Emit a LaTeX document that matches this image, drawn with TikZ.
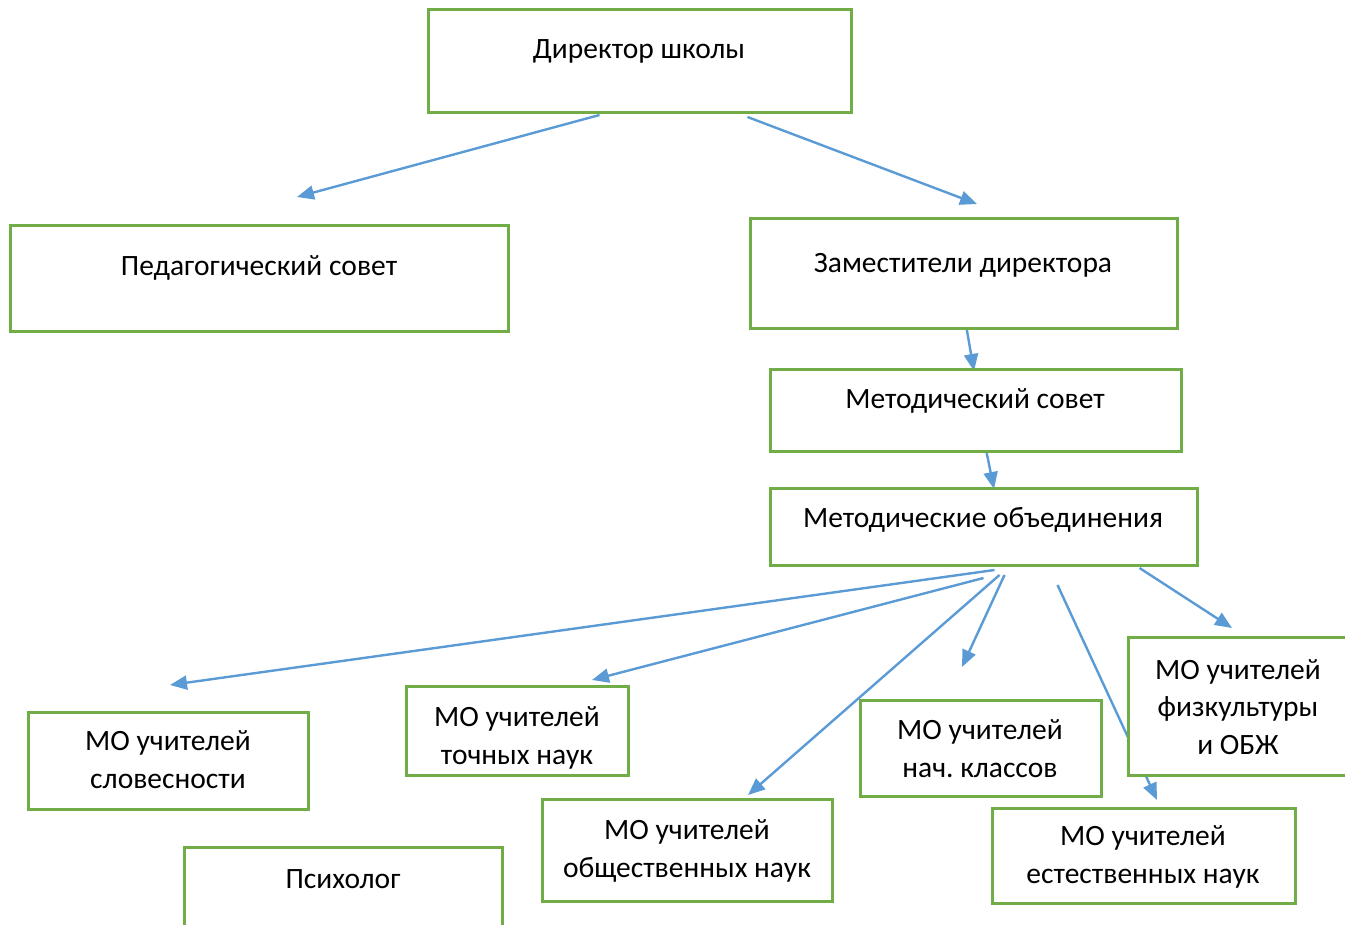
\documentclass[tikz,border=0pt]{standalone}
\usepackage{fontspec}
\setmainfont{Carlito}
\usetikzlibrary{arrows.meta,backgrounds}
\definecolor{boxgreen}{HTML}{70AD47}
\definecolor{arrblue}{HTML}{5B9BD5}

\begin{document}
\begin{tikzpicture}[x=1pt,y=-1pt,
  box/.style={draw=boxgreen,line width=3pt,fill=white,anchor=north west,inner sep=0pt,outer sep=0pt},
  txt/.style={anchor=base,align=center,font=\fontsize{29.5}{37.5}\selectfont},
  arr/.style={draw=arrblue,line width=2.4pt,-{Triangle[length=17pt,width=14pt]}}]
\clip (0,0) rectangle (1345,925);
% boxes
\node[box,minimum width=423pt,minimum height=103pt] (dir) at (428,10) {};
\node[box,minimum width=498pt,minimum height=106pt] (ped) at (10,226) {};
\node[box,minimum width=427pt,minimum height=110pt] (zam) at (750,219) {};
\node[box,minimum width=411pt,minimum height=81pt] (mets) at (770,370) {};
\node[box,minimum width=427pt,minimum height=77pt] (mob) at (770,488) {};
\node[box,minimum width=280pt,minimum height=97pt] (slov) at (28,712) {};
\node[box,minimum width=222pt,minimum height=89pt] (toch) at (406,686) {};
\node[box,minimum width=290pt,minimum height=102pt] (obsh) at (542,799) {};
\node[box,minimum width=241pt,minimum height=96pt] (nach) at (860,700) {};
\node[box,minimum width=240pt,minimum height=138pt] (fiz) at (1128,637) {};
\node[box,minimum width=303pt,minimum height=95pt] (est) at (992,808) {};
\node[box,minimum width=318pt,minimum height=120pt] (psy) at (184,847) {};
% texts (base = last line)
\node[txt] (dir_t) at (639,59) {Директор школы};
\node[txt] (ped_t) at (259,276) {Педагогический совет};
\node[txt] (zam_t) at (963,273) {Заместители директора};
\node[txt] (mets_t) at (975,409) {Методический совет};
\node[txt] (mob_t) at (983,527) {Методические объединения};
\node[txt] (slov_t) at (168,788) {МО учителей\\словесности};
\node[txt] (toch_t) at (517,764) {МО учителей\\точных наук};
\node[txt] (obsh_t) at (687,877) {МО учителей\\общественных наук};
\node[txt] (nach_t) at (980,777) {МО учителей\\нач.\ классов};
\node[txt] (fiz_t) at (1238,754) {МО учителей\\физкультуры\\и ОБЖ};
\node[txt] (est_t) at (1143,883) {МО учителей\\естественных наук};
\node[txt] (psy_t) at (343,888) {Психолог};
% arrow ends
\coordinate (ped_in) at (297,197);
\coordinate (zam_in) at (977,204);
\coordinate (mets_in) at (974,371);
\coordinate (mob_in) at (994,489);
\coordinate (slov_in) at (170,685);
\coordinate (toch_in) at (592,680);
\coordinate (obsh_in) at (748,795);
\coordinate (nach_in) at (962,667);
\coordinate (est_in) at (1157,800);
\coordinate (fiz_in) at (1232,628);
\begin{scope}[on background layer]
\draw[arr] ([xshift=-40pt,yshift=-2pt]dir.south) -- (ped_in);
\draw[arr] ([xshift=108pt,yshift=-4pt]dir.south) -- (zam_in);
\draw[arr] ([xshift=3pt,yshift=1pt]zam.south) -- (mets_in);
\draw[arr] ([xshift=11pt,yshift=-1pt]mets.south) -- (mob_in);
\draw[arr] ([xshift=11pt,yshift=-5pt]mob.south) -- (slov_in);
\draw[arr] ([xshift=0pt,yshift=-13pt]mob.south) -- (toch_in);
\draw[arr] ([xshift=16pt,yshift=-10pt]mob.south) -- (obsh_in);
\draw[arr] ([xshift=21pt,yshift=-10pt]mob.south) -- (nach_in);
\draw[arr] ([xshift=74pt,yshift=-20pt]mob.south) -- (est_in);
\draw[arr] ([xshift=156pt,yshift=-3pt]mob.south) -- (fiz_in);
\end{scope}
\end{tikzpicture}
\end{document}
